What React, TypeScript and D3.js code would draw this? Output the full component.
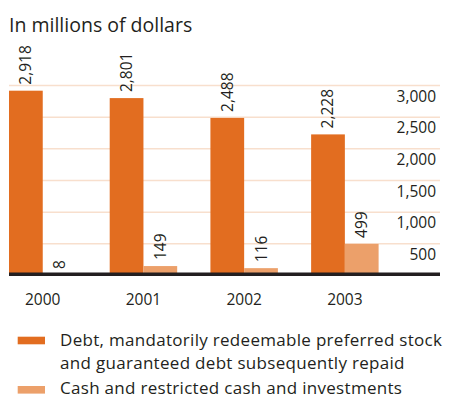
import React from "react";
import * as d3 from "d3";

const years = ["2000", "2001", "2002", "2003"];
const debtValues = [2918, 2801, 2488, 2228];
const cashValues = [8, 149, 116, 499];
const yTicks = [500, 1000, 1500, 2000, 2500, 3000];
const seriesNames = [
  ["Debt, mandatorily redeemable preferred stock", "and guaranteed debt subsequently repaid"],
  ["Cash and restricted cash and investments"],
];

const W = 453;
const H = 398;
const DARK = "#E26D20";
const LIGHT = "#ECA06A";
const GRID = "#F8DFCD";
const INK = "#231F20";
const FONT = "'Open Sans', 'Noto Sans', sans-serif";

export default function App() {
  const left = 9;
  const right = 440;
  const x = d3.scaleBand<string>().domain(years).range([9, 378.6]).paddingInner(0.33).paddingOuter(0);
  const y = d3.scaleLinear().domain([0, 3000]).range([275.5, 85.5]);
  const bw = x.bandwidth() / 2;
  const fmt = d3.format(",");

  return (
    <svg width={W} height={H} style={{ position: "absolute", left: 0, top: 0, background: "#fff" }} fontFamily={FONT}>
      <text x={9} y={31.5} fontSize={19.5} fill={INK}>In millions of dollars</text>
      {yTicks.map((t) => (
        <g key={t}>
          <line x1={left} x2={right} y1={y(t)} y2={y(t)} stroke={GRID} strokeWidth={1.5} />
          <text x={436} y={y(t) + 16} textAnchor="end" fontSize={15.5} fill={INK}>{fmt(t)}</text>
        </g>
      ))}
      {years.map((yr, i) => {
        const x0 = x(yr) as number;
        return (
          <g key={yr}>
            <rect x={x0} y={y(debtValues[i])} width={bw} height={y(0) - y(debtValues[i])} fill={DARK} />
            <rect x={x0 + bw} y={y(cashValues[i])} width={bw} height={y(0) - y(cashValues[i])} fill={LIGHT} />
            <text transform={`translate(${x0 + bw / 2 + 5.5},${y(debtValues[i]) - 6}) rotate(-90)`} fontSize={15.5} fill={INK}>{fmt(debtValues[i])}</text>
            <text transform={`translate(${x0 + bw * 1.5 + 5.5},${y(cashValues[i]) - 6}) rotate(-90)`} fontSize={15.5} fill={INK}>{fmt(cashValues[i])}</text>
            <text x={x0 + bw} y={305} textAnchor="middle" fontSize={15.5} fill={INK}>{yr}</text>
          </g>
        );
      })}
      <line x1={left} x2={right} y1={274.3} y2={274.3} stroke={INK} strokeWidth={3.5} />
      <rect x={17.7} y={336.7} width={27.3} height={7.6} fill={DARK} />
      <rect x={17.7} y={386} width={27.3} height={7.6} fill={LIGHT} />
      <text x={60} y={346} fontSize={17} letterSpacing={0.3} fill={INK}>{seriesNames[0][0]}</text>
      <text x={60} y={369.4} fontSize={17} letterSpacing={0.3} fill={INK}>{seriesNames[0][1]}</text>
      <text x={60} y={394} fontSize={17} letterSpacing={0.3} fill={INK}>{seriesNames[1][0]}</text>
    </svg>
  );
}
